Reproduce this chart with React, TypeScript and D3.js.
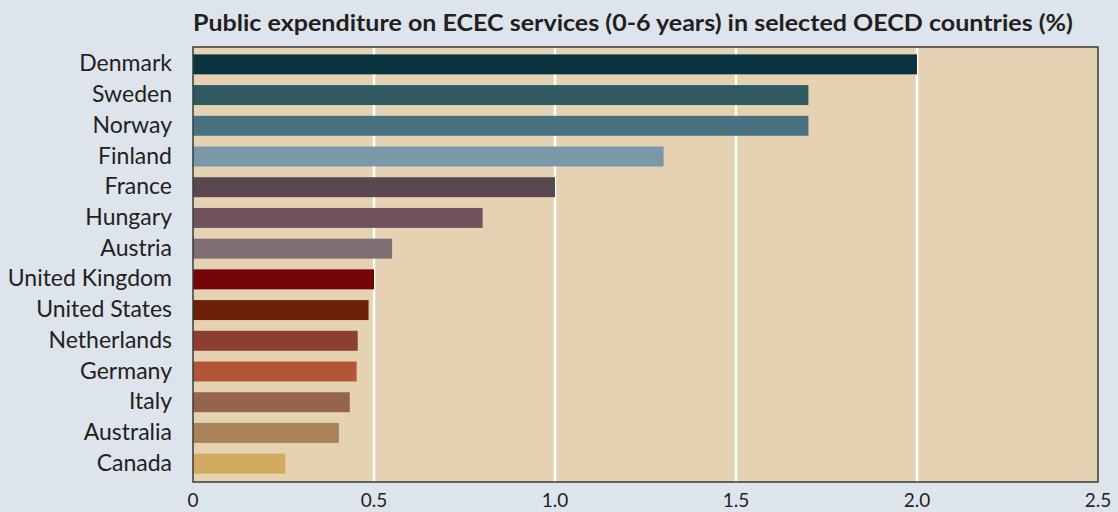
import React from "react";
import { scaleBand, scaleLinear } from "d3";

const countries = [
  "Denmark",
  "Sweden",
  "Norway",
  "Finland",
  "France",
  "Hungary",
  "Austria",
  "United Kingdom",
  "United States",
  "Netherlands",
  "Germany",
  "Italy",
  "Australia",
  "Canada",
];
const spending = [2.0, 1.7, 1.7, 1.3, 1.0, 0.8, 0.55, 0.5, 0.485, 0.455, 0.452, 0.433, 0.403, 0.255];
const barColors = [
  "#0a3340", "#2f5a60", "#4a7180", "#7a98a8", "#5a4850", "#72525e", "#7e6e72",
  "#740407", "#6c2007", "#8c3e30", "#b25638", "#95654b", "#aa8259", "#d1aa5f",
];
const xTicks = [0, 0.5, 1.0, 1.5, 2.0, 2.5];
const tickLabels = ["0", "0.5", "1.0", "1.5", "2.0", "2.5"];
const title = "Public expenditure on ECEC services (0-6 years) in selected OECD countries (%)";

const W = 1118;
const H = 512;
const margin = { top: 47, right: 20, bottom: 30, left: 193 };

export default function App() {
  const plotBottom = H - margin.bottom;
  const plotRight = W - margin.right;

  const x = scaleLinear().domain([0, 2.5]).range([margin.left, plotRight]);
  // bars sit slightly inside the frame
  const y = scaleBand<string>()
    .domain(countries)
    .range([margin.top + 2, plotBottom - 3])
    .paddingInner(0.35)
    .paddingOuter(0.175);

  const font = "Lato, 'Open Sans', sans-serif";

  return (
    <svg
      width={W}
      height={H}
      style={{ position: "absolute", left: 0, top: 0, background: "#dde4ec" }}
    >
      <rect x={0} y={0} width={W} height={H} fill="#dde4ec" />
      <text
        x={margin.left}
        y={31}
        fontFamily={font}
        fontWeight={700}
        fontSize={22}
        fill="#231f20"
        textLength={880}
        lengthAdjust="spacingAndGlyphs"
      >
        {title}
      </text>

      <rect
        x={margin.left}
        y={margin.top}
        width={plotRight - margin.left}
        height={plotBottom - margin.top}
        fill="#e5d2b2"
      />

      {/* gridlines */}
      {xTicks.slice(1, -1).map((t) => (
        <line
          key={t}
          x1={x(t)}
          x2={x(t)}
          y1={margin.top}
          y2={plotBottom}
          stroke="#ffffff"
          strokeWidth={2.5}
        />
      ))}

      {/* bars */}
      {countries.map((c, i) => (
        <rect
          key={c}
          x={x(0)}
          y={y(c)}
          width={x(spending[i]) - x(0)}
          height={y.bandwidth()}
          fill={barColors[i]}
        />
      ))}

      {/* frame */}
      <rect
        x={margin.left}
        y={margin.top}
        width={plotRight - margin.left}
        height={plotBottom - margin.top}
        fill="none"
        stroke="#3a3a3a"
        strokeWidth={1.5}
      />

      {/* category labels */}
      {countries.map((c) => (
        <text
          key={c}
          x={172}
          y={(y(c) ?? 0) + y.bandwidth() / 2 - 1}
          dy="0.35em"
          textAnchor="end"
          fontFamily={font}
          fontSize={23}
          fill="#231f20"
        >
          {c}
        </text>
      ))}

      {/* x tick labels */}
      {xTicks.map((t, i) => (
        <text
          key={t}
          x={x(t)}
          y={507}
          textAnchor="middle"
          fontFamily={font}
          fontSize={19}
          fill="#231f20"
        >
          {tickLabels[i]}
        </text>
      ))}
    </svg>
  );
}
